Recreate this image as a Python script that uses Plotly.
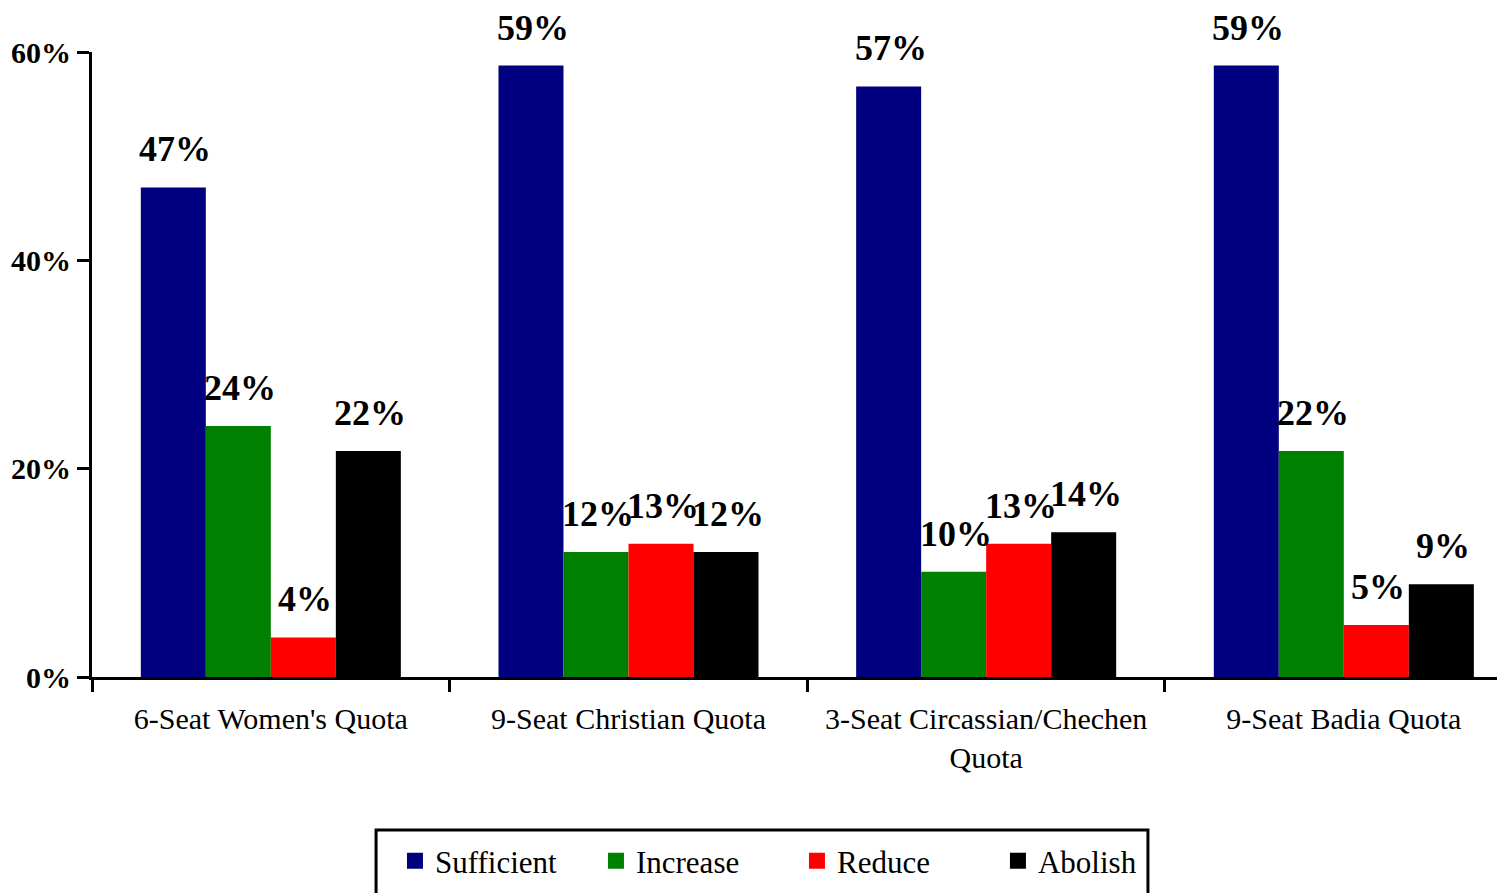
import plotly.graph_objects as go


# ==========================================================
# DATA
# ==========================================================

CATEGORIES = [
    "6-Seat Women's Quota",
    "9-Seat Christian Quota",
    "3-Seat Circassian/Chechen<br>Quota",
    "9-Seat Badia Quota",
]

SUFFICIENT = [0.470, 0.587, 0.567, 0.587]
INCREASE = [0.241, 0.120, 0.101, 0.217]
REDUCE = [0.038, 0.128, 0.128, 0.050]
ABOLISH = [0.217, 0.120, 0.139, 0.089]

SERIES_NAMES = ["Sufficient", "Increase", "Reduce", "Abolish"]


# ==========================================================
# THEME
# ==========================================================

COLORS = ["#000080", "#008000", "#FF0000", "#000000"]

FONT = "Liberation Serif"

WIDTH = 1505
HEIGHT = 893

# page body adds an 8px offset, margins are set to compensate
MARGIN = dict(l=84, r=0, t=44, b=224)

X_RANGE = [-0.5, 3.473]
BARGAP = 0.273


# ==========================================================
# FIGURE
# ==========================================================

fig = go.Figure()

series = [SUFFICIENT, INCREASE, REDUCE, ABOLISH]

for name, values, color in zip(SERIES_NAMES, series, COLORS):

    fig.add_trace(
        go.Bar(
            x=CATEGORIES,
            y=values,
            name=name,
            marker_color=color,
            marker_line_width=0,
            showlegend=False,
            hoverinfo="skip",
        )
    )

    # legend-only entry (bigger square than the bar icon)
    fig.add_trace(
        go.Scatter(
            x=[None],
            y=[None],
            mode="markers",
            name=name,
            marker=dict(symbol="square", size=20, color=color),
        )
    )


# ==========================================================
# DATA LABELS
# ==========================================================

plot_px = WIDTH - MARGIN["l"] - MARGIN["r"]
cat_px = plot_px / (X_RANGE[1] - X_RANGE[0])
bar_px = cat_px * (1 - BARGAP) / len(series)

for i, values in enumerate(series):
    for cat, v in zip(CATEGORIES, values):
        fig.add_annotation(
            x=cat,
            y=v,
            text="<b>%d%%</b>" % round(v * 100),
            showarrow=False,
            yanchor="bottom",
            yshift=16,
            xshift=(i - 1.5) * bar_px + 2,
            font=dict(family=FONT, size=36, color="black"),
        )


# ==========================================================
# LEGEND FRAME
# ==========================================================

fig.add_shape(
    type="rect",
    xref="paper",
    yref="paper",
    x0=0.1999,
    x1=0.7431,
    y0=-0.2448,
    y1=-0.36,
    line=dict(color="black", width=3),
    fillcolor="white",
    layer="below",
)


# ==========================================================
# LAYOUT
# ==========================================================

fig.update_layout(
    width=WIDTH,
    height=HEIGHT,
    barmode="group",
    bargap=BARGAP,
    bargroupgap=0,
    paper_bgcolor="white",
    plot_bgcolor="white",
    margin=MARGIN,
    font=dict(family=FONT, color="black"),
    legend=dict(
        orientation="h",
        x=0.2132,
        xanchor="left",
        y=-0.2514,
        yanchor="top",
        borderwidth=0,
        bgcolor="rgba(0,0,0,0)",
        entrywidth=156,
        font=dict(family=FONT, size=31, color="black"),
    ),
)

fig.update_xaxes(
    range=X_RANGE,
    showline=True,
    linecolor="black",
    linewidth=3,
    ticks="outside",
    tickson="boundaries",
    ticklen=12,
    tickwidth=3,
    tickcolor="black",
    showgrid=False,
    ticklabelstandoff=13,
    tickfont=dict(family=FONT, size=30, color="black"),
)

fig.update_yaxes(
    range=[0, 0.6],
    tickvals=[0, 0.2, 0.4, 0.6],
    ticktext=["<b>0%</b>", "<b>20%</b>", "<b>40%</b>", "<b>60%</b>"],
    showline=True,
    linecolor="black",
    linewidth=3,
    ticks="outside",
    ticklen=12,
    tickwidth=3,
    tickcolor="black",
    showgrid=False,
    zeroline=False,
    tickfont=dict(family=FONT, size=30, color="black"),
)

fig.write_html("out.html")
